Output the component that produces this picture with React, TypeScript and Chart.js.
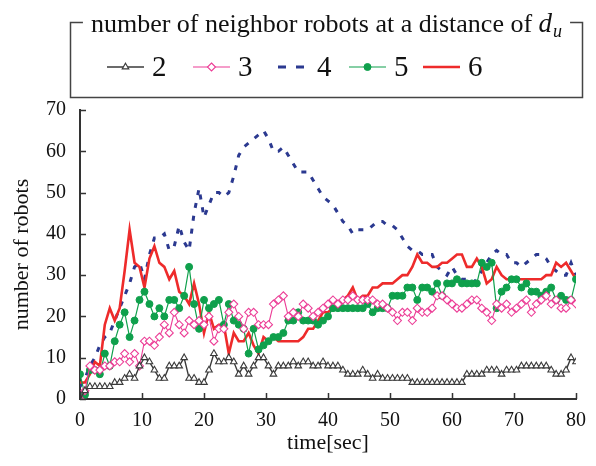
import React, { useEffect, useRef } from "react";
import { Chart, registerables } from "chart.js";

Chart.register(...registerables);

const times = [
  0, 0.8, 1.6, 2.4, 3.2, 4, 4.8, 5.6, 6.4, 7.2,
  8, 8.8, 9.6, 10.4, 11.2, 12, 12.8, 13.6, 14.4, 15.2,
  16, 16.8, 17.6, 18.4, 19.2, 20, 20.8, 21.6, 22.4, 23.2,
  24, 24.8, 25.6, 26.4, 27.2, 28, 28.8, 29.6, 30.4, 31.2,
  32, 32.8, 33.6, 34.4, 35.2, 36, 36.8, 37.6, 38.4, 39.2,
  40, 40.8, 41.6, 42.4, 43.2, 44, 44.8, 45.6, 46.4, 47.2,
  48, 48.8, 49.6, 50.4, 51.2, 52, 52.8, 53.6, 54.4, 55.2,
  56, 56.8, 57.6, 58.4, 59.2, 60, 60.8, 61.6, 62.4, 63.2,
  64, 64.8, 65.6, 66.4, 67.2, 68, 68.8, 69.6, 70.4, 71.2,
  72, 72.8, 73.6, 74.4, 75.2, 76, 76.8, 77.6, 78.4, 79.2,
  80,
];

const robots2 = [
  0, 2, 3, 3, 3, 3, 3, 4, 4, 5,
  6, 5, 8, 10, 9, 7, 5, 5, 8, 8,
  8, 10, 5, 5, 4, 4, 7, 11, 9, 9,
  10, 9, 6, 8, 6, 8, 10, 10, 8, 6,
  8, 8, 8, 9, 8, 9, 9, 8, 8, 9,
  8, 8, 8, 7, 6, 6, 6, 7, 6, 5,
  6, 5, 5, 5, 5, 5, 5, 4, 4, 4,
  4, 4, 4, 4, 4, 4, 4, 4, 6, 6,
  6, 6, 7, 7, 7, 6, 7, 7, 7, 8,
  8, 8, 8, 8, 8, 7, 6, 6, 7, 10,
  9,
];

const robots3 = [
  0, 2, 8, 7, 7, 8, 8, 9, 9, 11,
  9, 11, 8, 14, 14, 13, 15, 18, 16, 21,
  18, 16, 19, 18, 19, 18, 20, 14, 17, 17,
  21, 23, 20, 17, 21, 21, 18, 18, 18, 23,
  24, 25, 20, 21, 20, 23, 22, 20, 21, 22,
  23, 24, 23, 24, 24, 25, 24, 24, 24, 24,
  23, 23, 22, 21, 19, 21, 21, 19, 22, 21,
  21, 22, 25, 25, 24, 23, 22, 22, 23, 24,
  24, 22, 21, 19, 23, 22, 23, 21, 22, 23,
  24, 21, 23, 24, 25, 23, 24, 22, 22, 24,
  23,
];

const robots4 = [
  3, 5, 8, 10, 13, 15, 16, 19, 22, 25,
  28, 32, 33, 29, 35, 39, 39, 40, 36, 37,
  42, 38, 36, 45, 51, 44, 47, 50, 50, 49,
  50, 54, 59, 61, 62, 63, 64, 65, 63, 60,
  60, 61, 59, 57, 55, 55, 55, 53, 51, 49,
  48, 47, 45, 43, 42, 40, 41, 41, 41, 42,
  43, 43, 42, 42, 41, 39, 37, 36, 36, 35,
  35, 35, 32, 31, 30, 32, 30, 29, 29, 28,
  29, 31, 33, 35, 36, 35, 35, 33, 33, 32,
  33, 34, 35, 35, 34, 32, 31, 30, 30, 33,
  30,
];

const robots5 = [
  6, 1, 7, 7, 6, 11, 8, 14, 18, 21,
  15, 19, 24, 26, 23, 20, 22, 20, 24, 24,
  22, 25, 32, 23, 17, 24, 22, 23, 24, 18,
  23, 19, 18, 17, 11, 17, 12, 13, 14, 15,
  15, 16, 19, 19, 21, 19, 19, 19, 18, 19,
  20, 22, 22, 22, 22, 22, 22, 22, 23, 21,
  22, 22, 22, 25, 25, 25, 27, 27, 24, 27,
  27, 26, 28, 25, 28, 28, 29, 28, 28, 28,
  28, 33, 32, 33, 22, 26, 27, 29, 29, 27,
  28, 26, 26, 25, 26, 27, 24, 25, 24, 24,
  29,
];

const robots6 = [
  4, 4, 6, 9, 8, 18, 22, 19, 22, 31,
  41, 33, 32, 27, 34, 37, 33, 32, 29, 31,
  26, 25, 23, 28, 23, 16, 21, 17, 18, 18,
  11, 16, 14, 14, 16, 13, 11, 15, 14, 15,
  14, 14, 14, 14, 14, 15, 17, 17, 19, 21,
  21, 22, 22, 24, 25, 27, 24, 25, 25, 27,
  27, 28, 28, 28, 29, 30, 30, 32, 35, 33,
  33, 32, 32, 33, 33, 34, 35, 35, 32, 32,
  34, 32, 28, 29, 32, 30, 29, 29, 29, 29,
  29, 29, 29, 29, 30, 30, 33, 32, 33, 31,
  29,
];

const seriesLabels = ["2", "3", "4", "5", "6"];
const xTicks = [0, 10, 20, 30, 40, 50, 60, 70, 80];
const yTicks = [0, 10, 20, 30, 40, 50, 60, 70];
const legendTitle = "number of neighbor robots at a distance of ";
const xTitle = "time[sec]";
const yTitle = "number of robots";

const SERIF = '"Liberation Serif", "Times New Roman", serif';
const AXIS = "#333333";

const toPoints = (vals: number[]) => vals.map((v, i) => ({ x: times[i], y: v }));

const decorPlugin = {
  id: "decor",
  afterDraw(chart: any) {
    const ctx = chart.ctx as CanvasRenderingContext2D;
    const xs = chart.scales.x;
    const ys = chart.scales.y;
    const area = chart.chartArea;
    ctx.save();
    // inward ticks
    ctx.strokeStyle = AXIS;
    ctx.lineWidth = 1.5;
    ctx.beginPath();
    xTicks.forEach((t) => {
      const px = Math.round(xs.getPixelForValue(t)) + 0.5;
      ctx.moveTo(px, area.bottom);
      ctx.lineTo(px, area.bottom - 6);
    });
    yTicks.forEach((t) => {
      const py = Math.round(ys.getPixelForValue(t)) + 0.5;
      ctx.moveTo(area.left, py);
      ctx.lineTo(area.left + 6, py);
    });
    ctx.stroke();

    // axis titles
    ctx.fillStyle = "#111";
    ctx.font = `22px ${SERIF}`;
    ctx.textAlign = "center";
    ctx.textBaseline = "middle";
    ctx.fillText(xTitle, (area.left + area.right) / 2, 443);
    ctx.save();
    ctx.translate(22, (area.top + area.bottom) / 2);
    ctx.rotate(-Math.PI / 2);
    ctx.fillText(yTitle, 0, 0);
    ctx.restore();

    // legend box
    const L = 70.5, R = 582.5, T = 22.5, B = 97.5;
    ctx.font = `26px ${SERIF}`;
    const w1 = ctx.measureText(legendTitle).width;
    ctx.font = `italic 27px ${SERIF}`;
    const w2 = ctx.measureText("d").width;
    ctx.font = `italic 18px ${SERIF}`;
    const w3 = ctx.measureText("u").width;
    const total = w1 + w2 + w3 + 1;
    const cx = (L + R) / 2;
    const tx0 = cx - total / 2;
    const baseY = 32;
    ctx.textAlign = "left";
    ctx.textBaseline = "alphabetic";
    ctx.font = `26px ${SERIF}`;
    ctx.fillText(legendTitle, tx0, baseY);
    ctx.font = `italic 27px ${SERIF}`;
    ctx.fillText("d", tx0 + w1, baseY);
    ctx.font = `italic 18px ${SERIF}`;
    ctx.fillText("u", tx0 + w1 + w2 + 1, baseY + 5);

    ctx.strokeStyle = "#444";
    ctx.lineWidth = 1.5;
    ctx.beginPath();
    ctx.moveTo(tx0 - 8, T);
    ctx.lineTo(L, T);
    ctx.lineTo(L, B);
    ctx.lineTo(R, B);
    ctx.lineTo(R, T);
    ctx.lineTo(tx0 + total + 8, T);
    ctx.stroke();

    // legend items
    const itemX = [107, 193, 272, 349, 423];
    const ly = 67;
    const lineLen = 37;
    chart.data.datasets.forEach((ds: any, i: number) => {
      const x0 = itemX[i];
      ctx.save();
      ctx.strokeStyle = ds.borderColor;
      ctx.lineWidth = ds.borderWidth;
      ctx.beginPath();
      if (ds.borderDash) {
        ctx.setLineDash([8, 10]);
        ctx.moveTo(x0 + 6, ly);
        ctx.lineTo(x0 + 32, ly);
      } else {
        ctx.moveTo(x0, ly);
        ctx.lineTo(x0 + lineLen, ly);
      }
      ctx.stroke();
      ctx.setLineDash([]);
      if (ds.pointRadius > 0) {
        ctx.fillStyle = ds.pointBackgroundColor;
        ctx.strokeStyle = ds.pointBorderColor;
        ctx.lineWidth = ds.pointBorderWidth;
        const mx = x0 + lineLen / 2;
        const r = ds.pointRadius;
        ctx.beginPath();
        if (ds.pointStyle === "triangle") {
          ctx.moveTo(mx, ly - r);
          ctx.lineTo(mx + r * 0.87, ly + r * 0.5);
          ctx.lineTo(mx - r * 0.87, ly + r * 0.5);
          ctx.closePath();
        } else if (ds.pointStyle === "rectRot") {
          ctx.moveTo(mx, ly - r);
          ctx.lineTo(mx + r, ly);
          ctx.lineTo(mx, ly + r);
          ctx.lineTo(mx - r, ly);
          ctx.closePath();
        } else {
          ctx.arc(mx, ly, r, 0, Math.PI * 2);
        }
        ctx.fill();
        ctx.stroke();
      }
      ctx.restore();
      ctx.fillStyle = "#111";
      ctx.font = `29px ${SERIF}`;
      ctx.textAlign = "left";
      ctx.textBaseline = "middle";
      ctx.fillText(ds.label, x0 + lineLen + 8, ly + 1);
    });
    ctx.restore();
  },
};

export default function App() {
  const ref = useRef<HTMLCanvasElement | null>(null);
  useEffect(() => {
    if (!ref.current) return;
    const chart = new Chart(ref.current, {
      type: "line",
      data: {
        datasets: [
          {
            label: seriesLabels[0],
            data: toPoints(robots2),
            borderColor: "#3a3a3a",
            borderWidth: 1.4,
            pointStyle: "triangle",
            pointRadius: 3.8,
            pointBackgroundColor: "#ffffff",
            pointBorderColor: "#3a3a3a",
            pointBorderWidth: 1.1,
            order: 1,
          },
          {
            label: seriesLabels[1],
            data: toPoints(robots3),
            borderColor: "#ec3d96",
            borderWidth: 1.1,
            pointStyle: "rectRot",
            pointRadius: 4,
            pointBackgroundColor: "#ffffff",
            pointBorderColor: "#ec3d96",
            pointBorderWidth: 1.1,
            order: 2,
          },
          {
            label: seriesLabels[2],
            data: toPoints(robots4),
            borderColor: "#2b3990",
            borderWidth: 3,
            borderDash: [5, 8],
            pointRadius: 0,
            order: 5,
          },
          {
            label: seriesLabels[3],
            data: toPoints(robots5),
            borderColor: "#0fa04c",
            borderWidth: 1.2,
            pointStyle: "circle",
            pointRadius: 3.5,
            pointBackgroundColor: "#0fa04c",
            pointBorderColor: "#0fa04c",
            pointBorderWidth: 1,
            order: 3,
          },
          {
            label: seriesLabels[4],
            data: toPoints(robots6),
            borderColor: "#ee2b2b",
            borderWidth: 2.6,
            pointRadius: 0,
            order: 4,
          },
        ],
      },
      options: {
        responsive: false,
        animation: false,
        layout: { padding: { top: 110, right: 12, bottom: 0, left: 0 } },
        plugins: { legend: { display: false }, tooltip: { enabled: false } },
        elements: { line: { tension: 0 } },
        scales: {
          x: {
            type: "linear",
            min: 0,
            max: 80,
            afterFit: (s: any) => { s.height = 67; },
            afterBuildTicks: (s: any) => { s.ticks = xTicks.map((v) => ({ value: v })); },
            grid: { display: false, drawTicks: false },
            border: { display: true, color: AXIS, width: 2 },
            ticks: { padding: 10, color: "#111", font: { family: SERIF, size: 20 } },
          },
          y: {
            type: "linear",
            min: 0,
            max: 70,
            afterFit: (s: any) => { s.width = 80; },
            afterBuildTicks: (s: any) => { s.ticks = yTicks.map((v) => ({ value: v })); },
            grid: { display: false, drawTicks: false },
            border: { display: true, color: AXIS, width: 2 },
            ticks: { padding: 14, color: "#111", font: { family: SERIF, size: 20 } },
          },
        },
      },
      plugins: [decorPlugin],
    });
    return () => chart.destroy();
  }, []);
  return (
    <canvas
      ref={ref}
      width={596}
      height={466}
      style={{ position: "absolute", left: 0, top: 0 }}
    />
  );
}
